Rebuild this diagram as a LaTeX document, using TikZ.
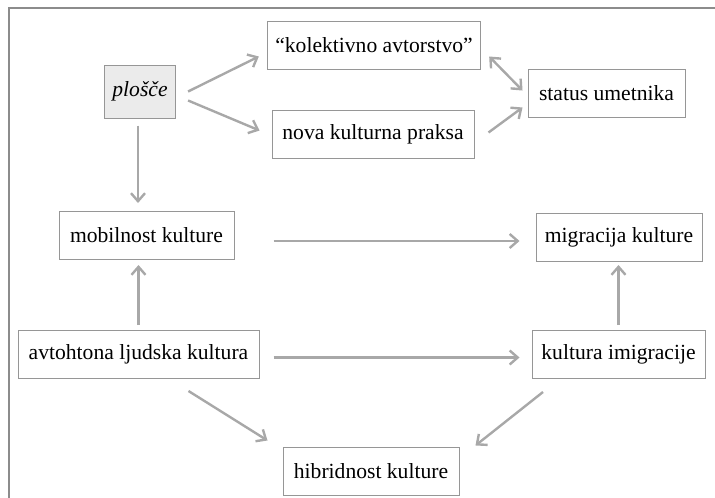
\documentclass[tikz,border=0pt]{standalone}
\usepackage{fontspec}
\setmainfont{Liberation Serif}
\usepackage{xcolor}
\usetikzlibrary{arrows.meta,calc}

\definecolor{arrowgray}{RGB}{168,168,168}
\definecolor{boxgray}{RGB}{150,150,150}
\definecolor{framegray}{RGB}{140,140,140}
\definecolor{fillgray}{RGB}{235,235,235}

\begin{document}
\begin{tikzpicture}[x=1pt,y=-1pt,
    box/.style={rectangle,draw=boxgray,line width=1pt,inner xsep=8pt,inner ysep=0pt,
        minimum height=48pt,font=\fontsize{21.6}{26}\selectfont},
    arr/.style={draw=arrowgray,line width=2.4pt,-{Straight Barb[length=8pt,width=14pt]}},
    dblarr/.style={arr,{Straight Barb[length=8pt,width=14pt]}-{Straight Barb[length=8pt,width=14pt]}}]
    \useasboundingbox (0,0) rectangle (715,498);
    % frame
    \draw[framegray,line width=2.6pt] (9,498) -- (9,8) -- (715,8);

    % top row
    \node[box,fill=fillgray,minimum width=68pt,minimum height=53pt] (plosce) at (140,91.5) {\itshape plošče};
    \node[box,minimum width=212pt] (kol) at (374,45.5) {“kolektivno avtorstvo”};
    \node[box,minimum width=202pt] (nova) at (373,134.5) {nova kulturna praksa};
    \node[box,minimum width=157pt] (status) at (606.5,93.5) {status umetnika};

    % middle row
    \node[box,minimum width=175pt] (mob) at (146.5,235.5) {mobilnost kulture};
    \node[box,minimum width=166pt] (mig) at (619,237.5) {migracija kulture};

    % bottom rows
    \node[box,minimum width=241pt] (avt) at (138.5,354.5) {avtohtona ljudska kultura};
    \node[box,minimum width=173pt] (imi) at (618.5,354.5) {kultura imigracije};
    \node[box,minimum width=176pt] (hib) at (371,471) {hibridnost kulture};

    % arrows from plosce
    \coordinate (pfoot) at ($(plosce.south)+(-2,0)$);
    \draw[arr] ($(plosce.east)+(12,0)$) -- ($(kol.west)+(-8,11)$);
    \draw[arr] ($(plosce.east)+(12,9)$) -- ($(nova.west)+(-12,-4)$);
    \draw[arr,shorten <=7pt,shorten >=8pt] (pfoot) -- (pfoot |- mob.north);

    % to status
    \draw[dblarr] ($(kol.east)+(8,11)$) -- ($(status.west)+(-5,-3)$);
    \draw[arr] ($(nova.east)+(14,-2)$) -- ($(status.west)+(-5,14)$);

    % horizontal arrows
    \draw[arr] ($(mob.east)+(39,5.5)$) -- ($(mig.west)+(-16,3.5)$);
    \draw[arr] ($(avt.east)+(14,3)$) -- ($(imi.west)+(-12,3)$);

    % vertical arrows
    \draw[arr,shorten <=5pt,shorten >=5pt] (avt.north) -- (avt.north |- mob.south);
    \draw[arr,shorten <=5pt,shorten >=3pt] (imi.north) -- (imi.north |- mig.south);

    % to hibridnost
    \draw[arr] ($(avt.south)+(50,12)$) -- ($(hib.north west)+(-15,-6)$);
    \draw[arr] ($(imi.south)+(-75.5,13)$) -- ($(hib.north east)+(16,-1)$);
\end{tikzpicture}
\end{document}
